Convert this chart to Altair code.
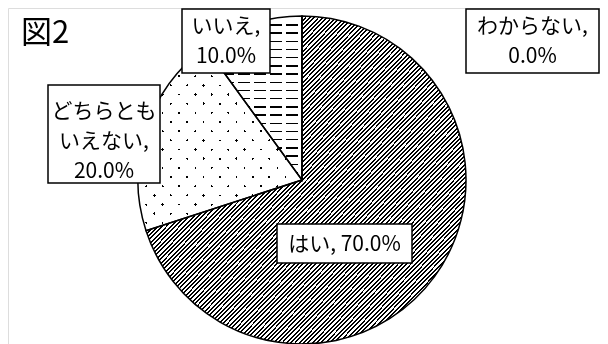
import altair as alt
import pandas as pd

# ---- data ----
title_text = ["図2"]
categories = ["はい", "どちらともいえない", "いいえ", "わからない"]
values = [70.0, 20.0, 10.0, 0.0]
label_text = ["はい, 70.0%", "どちらとも\nいえない,\n20.0%", "いいえ,\n10.0%", "わからない,\n0.0%"]

# ---- layout (pixels inside the plot area) ----
box_x1 = [269, 40, 174, 458]
box_x2 = [404, 152, 262, 591]
box_y1 = [216, 77, 1, 1]
box_y2 = [255, 175, 65, 65]
text_y = [237, 104, 19, 19]          # centre of the first text line
pie_cx, pie_cy, pie_r = 294, 172, 164
FONT = "Noto Sans CJK JP"
LINE_H = 30

df = pd.DataFrame({"category": categories, "value": values})
df["end"] = df["value"].cumsum()
df["start"] = df["end"] - df["value"]

lab = pd.DataFrame({"category": categories, "label": label_text,
                    "bx1": box_x1, "bx2": box_x2, "by1": box_y1, "by2": box_y2,
                    "ty": text_y})
lab["tx"] = (lab["bx1"] + lab["bx2"]) / 2


def stripes(n, frac, x1, y1, x2, y2, ink="black", paper="white"):
    stops = []
    for k in range(n):
        a = k / n
        b = (k + frac) / n
        c = (k + 1) / n
        stops += [
            {"offset": round(a, 6), "color": ink},
            {"offset": round(b, 6), "color": ink},
            {"offset": round(b, 6), "color": paper},
            {"offset": round(c, 6), "color": paper},
        ]
    return {"gradient": "linear", "x1": x1, "y1": y1, "x2": x2, "y2": y2, "stops": stops}


theta_scale = alt.Scale(domain=[0, 100])


def arc_layer(cat, fill, blend=None):
    kw = {"fill": fill, "radius": pie_r}
    if blend:
        kw["blend"] = blend
    return (
        alt.Chart(df)
        .transform_filter(alt.datum.category == cat)
        .mark_arc(**kw)
        .encode(
            theta=alt.Theta("start:Q", scale=theta_scale),
            theta2="end:Q",
            x=alt.value(pie_cx),
            y=alt.value(pie_cy),
        )
    )


hatch = arc_layer("はい", stripes(148, 0.45, 0, 0, 1, 1))
dots_a = arc_layer("どちらともいえない", stripes(20, 0.15, 0, 0, 1, 1))
dots_b = arc_layer("どちらともいえない", stripes(20, 0.15, 1, 0, 0, 1), blend="screen")
dash_a = arc_layer("いいえ", stripes(20, 0.18, 0, 0, 0, 1))
dash_b = arc_layer("いいえ", stripes(6, 0.75, 0, 0, 1, 0), blend="screen")

outline = (
    alt.Chart(df)
    .mark_arc(radius=pie_r, fillOpacity=0, stroke="black", strokeWidth=1.5)
    .encode(
        theta=alt.Theta("start:Q", scale=theta_scale),
        theta2="end:Q",
        x=alt.value(pie_cx),
        y=alt.value(pie_cy),
    )
)

boxes = (
    alt.Chart(lab)
    .mark_rect(fill="white", stroke="black", strokeWidth=1.5)
    .encode(
        x=alt.X("bx1:Q", scale=None, axis=None),
        x2="bx2:Q",
        y=alt.Y("by1:Q", scale=None, axis=None),
        y2="by2:Q",
    )
)

texts = (
    alt.Chart(lab)
    .mark_text(font=FONT, fontSize=21, lineBreak="\n", lineHeight=LINE_H,
               baseline="middle", align="center", color="black")
    .encode(
        x=alt.X("tx:Q", scale=None, axis=None),
        y=alt.Y("ty:Q", scale=None, axis=None),
        text="label:N",
    )
)

title = (
    alt.Chart(pd.DataFrame({"t": title_text}))
    .mark_text(font=FONT, fontSize=31, align="left", baseline="middle", color="black")
    .encode(x=alt.value(13), y=alt.value(26), text="t:N")
)

chart = (
    alt.layer(hatch, dots_a, dots_b, dash_a, dash_b, outline, boxes, texts, title)
    .properties(width=592, height=340, autosize="none", padding=0)
    .configure_view(strokeWidth=0)
    .configure(background="white")
)

chart.save("out.html", embed_options={"renderer": "svg", "actions": False})
